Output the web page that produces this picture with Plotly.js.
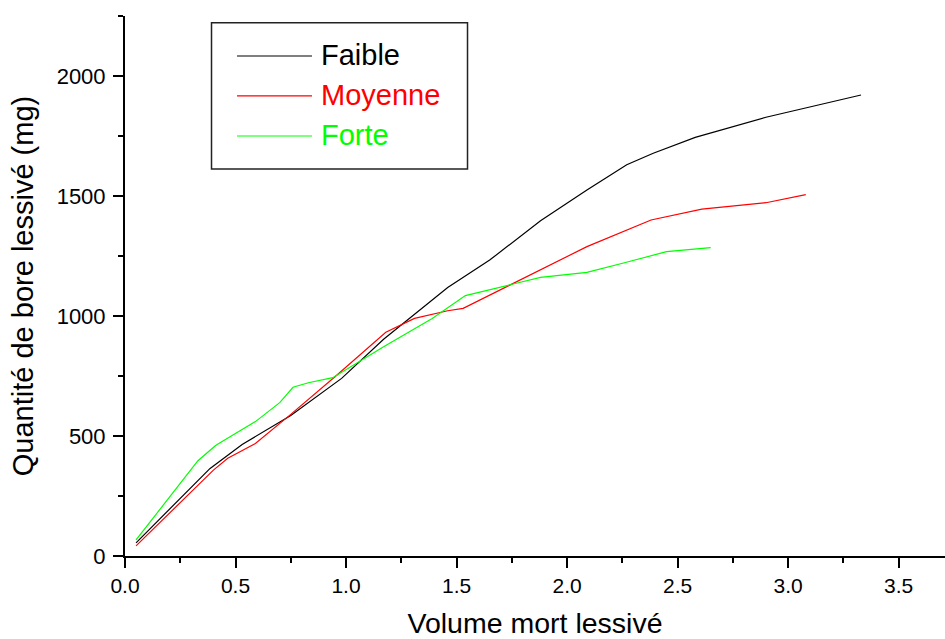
<!DOCTYPE html>
<html>
<head>
<meta charset="utf-8">
<script src="https://cdn.plot.ly/plotly-3.0.1.min.js"></script>
<style>
  html, body { margin: 0; padding: 0; background: #fff; }
  #chart { width: 945px; height: 639px; }
</style>
</head>
<body>
<div id="chart"></div>
<script>
// Leached boron (mg) against dead volume leached, for three intensities
const seriesNames = ["Faible", "Moyenne", "Forte"];
const seriesColors = ["#000000", "#ff0000", "#00ff00"];

const faibleX = [0.05, 0.385, 0.53, 0.75, 0.98, 1.17, 1.46, 1.65, 1.88, 2.09, 2.27, 2.39, 2.58, 2.90, 3.33];
const faibleY = [55, 365, 465, 585, 740, 903, 1119, 1233, 1397, 1525, 1630, 1678, 1744, 1828, 1921];

const moyenneX = [0.05, 0.40, 0.465, 0.59, 0.75, 0.95, 1.18, 1.31, 1.46, 1.53, 2.09, 2.38, 2.61, 2.90, 3.08];
const moyenneY = [42, 358, 407, 469, 590, 747, 932, 990, 1022, 1032, 1289, 1400, 1445, 1472, 1506];

const forteX = [0.05, 0.33, 0.41, 0.43, 0.59, 0.70, 0.76, 0.83, 0.94, 1.17, 1.39, 1.54, 1.88, 2.09, 2.26, 2.45, 2.65];
const forteY = [67, 397, 460, 472, 560, 639, 703, 722, 743, 872, 990, 1085, 1161, 1182, 1222, 1268, 1285];

const xTitle = "Volume mort lessivé";
const yTitle = "Quantité de bore lessivé (mg)";

const xs = [faibleX, moyenneX, forteX];
const ys = [faibleY, moyenneY, forteY];

const traces = seriesNames.map((name, i) => ({
  x: xs[i], y: ys[i], name: name, type: "scatter", mode: "lines",
  line: { color: seriesColors[i], width: 1.2 },
  showlegend: false, hoverinfo: "x+y+name"
}));

const FONT = "Arial, 'Liberation Sans', sans-serif";

// Hand-drawn legend box, with long line samples and coloured labels
const legendBox = { x0: 0.1055, x1: 0.4177, y0: 0.7167, y1: 0.9876 };
const legendRows = [0.9259, 0.8519, 0.7778];
const shapes = [{
  type: "rect", xref: "paper", yref: "paper",
  x0: legendBox.x0, x1: legendBox.x1, y0: legendBox.y0, y1: legendBox.y1,
  line: { color: "#222", width: 1.5 }, fillcolor: "rgba(0,0,0,0)"
}];
const annotations = [];
seriesNames.forEach((name, i) => {
  shapes.push({
    type: "line", xref: "paper", yref: "paper",
    x0: 0.1366, x1: 0.2280, y0: legendRows[i], y1: legendRows[i],
    line: { color: seriesColors[i], width: 1.2 }
  });
  annotations.push({
    xref: "paper", yref: "paper", x: 0.2362, y: legendRows[i] + 0.002,
    xanchor: "left", yanchor: "middle", showarrow: false,
    text: name, font: { family: FONT, size: 29, color: seriesColors[i] }
  });
});

const layout = {
  width: 945, height: 639,
  margin: { l: 125, r: 0, t: 16, b: 83 },
  paper_bgcolor: "#fff", plot_bgcolor: "#fff",
  font: { family: FONT, color: "#000" },
  showlegend: false,
  xaxis: {
    range: [0, 3.71], dtick: 0.5, tick0: 0, tickformat: ".1f",
    showgrid: false, zeroline: false,
    showline: true, linecolor: "#000", linewidth: 2,
    ticks: "outside", ticklen: 10, tickwidth: 2, tickcolor: "#000",
    minor: { dtick: 0.25, ticks: "outside", ticklen: 5, tickwidth: 2, tickcolor: "#000" },
    tickfont: { family: FONT, size: 21, color: "#000" },
    title: { text: xTitle, font: { family: FONT, size: 28.5, color: "#000" }, standoff: 20 },
    automargin: false
  },
  yaxis: {
    range: [0, 2250], dtick: 500, tick0: 0,
    showgrid: false, zeroline: false,
    showline: true, linecolor: "#000", linewidth: 2,
    ticks: "outside", ticklen: 10, tickwidth: 2, tickcolor: "#000",
    ticklabelstandoff: 3,
    minor: { dtick: 250, ticks: "outside", ticklen: 5, tickwidth: 2, tickcolor: "#000" },
    tickfont: { family: FONT, size: 22, color: "#000" },
    title: { text: yTitle, font: { family: FONT, size: 29, color: "#000" }, standoff: 14 },
    automargin: false
  },
  shapes: shapes,
  annotations: annotations
};

Plotly.newPlot("chart", traces, layout, { displayModeBar: false, responsive: false });
</script>
</body>
</html>
